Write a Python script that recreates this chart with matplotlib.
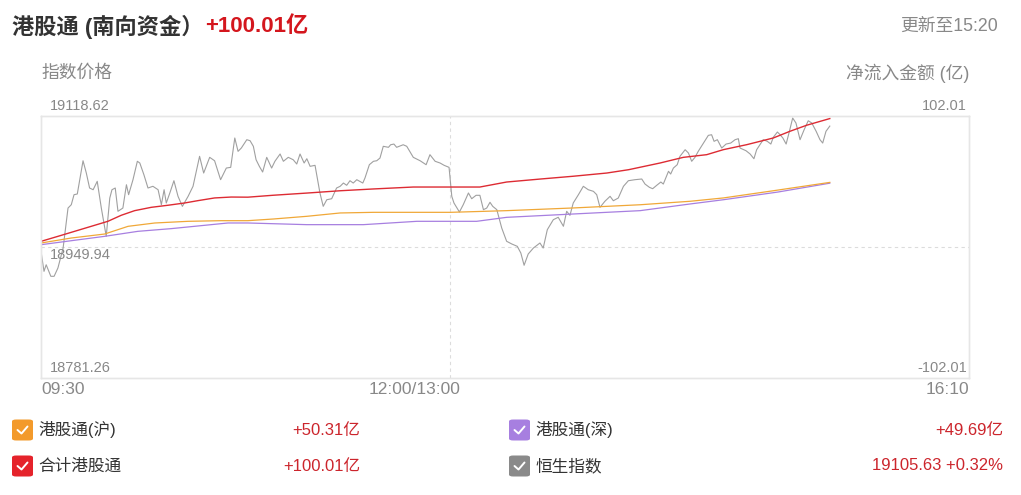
import matplotlib
matplotlib.use("Agg")
import matplotlib.pyplot as plt
import matplotlib.transforms as mtransforms
from matplotlib.patches import FancyBboxPatch
from matplotlib.lines import Line2D

plt.rcParams["font.family"] = ["Liberation Sans", "Noto Sans CJK SC"]

# ---- data (trading minutes since 09:30, lunch break removed) ----
hsi_min = [
    0, 1.1, 1.9, 3.6, 4.8, 6.2, 8.1, 9.9, 11.1, 12.1, 13.3, 14.2, 15.4, 16.6, 17.8,
    19.1, 20.6, 22.1, 23.9, 25.2, 26.0, 27.2, 28.2, 30.0, 31.3, 32.1, 33.7, 35.3,
    36.2, 37.7, 39.2, 41.0, 42.9, 44.1, 45.1, 45.9, 47.2, 48.7, 50.2, 51.8, 53.9,
    55.7, 58.1, 59.6, 61.8, 63.6, 65.8, 67.9, 69.5, 71.0, 72.2, 73.4, 75.4, 76.6,
    77.8, 78.8, 80.0, 81.2, 82.7, 84.5, 85.7, 87.6, 88.8, 90.6, 92.4, 93.7, 94.9,
    96.4, 97.4, 98.6, 100.4, 102.2, 103.4, 104.7, 106.5, 108.3, 109.6, 110.8,
    112.0, 113.2, 114.4, 115.7, 117.9, 118.7, 120.3, 121.8, 123.0, 124.2, 125.4,
    127.3, 128.1, 129.3, 130.3, 132.7, 134.0, 136.4, 138.9, 141.1, 142.5, 144.4,
    146.2, 147.7, 149.5, 150.5, 151.3, 153.3, 154.7, 156.6, 157.8, 159.4, 160.8,
    162.1, 163.3, 164.5, 165.5, 167.0, 168.8, 170.6, 172.5, 174.5, 175.8, 177.0,
    178.5, 180.4, 182.8, 184.0, 185.5, 187.7, 189.5, 191.4, 192.6, 193.8, 195.0,
    196.9, 198.7, 200.5, 202.4, 203.6, 204.8, 206.6, 208.5, 209.7, 211.5, 213.4,
    215.2, 217.6, 220.1, 221.3, 222.9, 224.1, 225.6, 227.1, 228.0, 229.9, 230.7,
    231.7, 233.1, 234.1, 236.0, 237.2, 238.4, 239.6, 240.8, 242.7, 244.5, 245.7,
    246.6, 247.8, 249.4, 251.0, 252.7, 254.3, 255.5, 256.1, 258.3, 259.8, 261.2,
    262.2, 263.4, 264.6, 266.1, 267.4, 268.3, 269.8, 270.8, 271.8, 273.0, 274.2,
    275.4, 276.6, 278.1, 279.6, 281.1, 282.4, 284.0, 285.4, 286.4, 287.6, 289.0,
]
hsi_val = [
    18944.4, 18918.6, 18927.1, 18912.2, 18912.2, 18922.9, 18948.6, 19000.1, 19004.4,
    19017.3, 19018.2, 19036.6, 19061.0, 19045.2, 19025.9, 19023.7, 19034.5, 19000.1,
    18963.7, 19013.0, 19023.7, 19025.9, 18995.9, 19000.1, 19030.1, 19017.3, 19036.6,
    19060.3, 19058.1, 19043.0, 19025.9, 19028.1, 19023.7, 19004.4, 19023.7, 19006.6,
    19019.5, 19035.3, 19015.2, 19002.3, 19015.2, 19028.1, 19066.7, 19045.2, 19065.4,
    19061.0, 19036.6, 19051.6, 19052.5, 19090.3, 19073.1, 19077.4, 19088.1, 19086.8,
    19079.6, 19062.3, 19053.8, 19046.5, 19065.4, 19051.6, 19060.3, 19069.7, 19060.3,
    19065.4, 19062.3, 19056.8, 19069.7, 19058.1, 19063.6, 19053.8, 19055.1, 19019.5,
    19002.3, 19010.8, 19012.1, 19025.9, 19028.1, 19032.3, 19029.4, 19035.3, 19032.3,
    19036.6, 19032.3, 19038.8, 19055.9, 19060.3, 19061.0, 19064.5, 19079.6, 19078.3,
    19081.6, 19082.5, 19078.3, 19081.6, 19079.6, 19065.4, 19061.0, 19055.9, 19068.8,
    19060.3, 19058.1, 19055.1, 19052.5, 19015.2, 19006.6, 18995.0, 19004.4, 19019.5,
    19012.1, 19016.5, 19016.5, 18998.0, 19000.1, 19007.5, 19002.3, 18998.0, 18974.4,
    18957.3, 18953.8, 18950.8, 18942.2, 18926.4, 18940.9, 18948.6, 18955.1, 18948.6,
    18972.2, 18985.1, 18988.2, 18976.6, 18995.9, 18990.7, 19006.6, 19017.3, 19028.1,
    19023.7, 19021.6, 19017.3, 19001.0, 19008.8, 19015.2, 19009.5, 19013.0, 19028.1,
    19035.3, 19036.6, 19037.5, 19031.0, 19026.8, 19025.0, 19029.4, 19033.6, 19031.0,
    19047.4, 19043.9, 19051.6, 19055.9, 19066.7, 19075.2, 19071.0, 19060.3, 19065.4,
    19073.1, 19083.8, 19093.7, 19094.5, 19086.0, 19088.1, 19077.4, 19082.5, 19083.8,
    19088.1, 19089.4, 19077.4, 19073.9, 19069.7, 19063.6, 19075.2, 19081.6, 19088.1,
    19086.0, 19082.5, 19091.2, 19098.0, 19094.5, 19090.3, 19082.5, 19098.9, 19116.0,
    19109.6, 19088.1, 19101.0, 19112.5, 19109.6, 19098.9, 19088.1, 19083.8, 19098.9,
    19105.63,
]

total_min = [0, 6.2, 12.3, 18.4, 24.5, 29.4, 34.3, 40.4, 46.5, 52.7, 57.5, 63.6, 69.7,
             75.8, 85.1, 97.4, 109.6, 121.8, 136.4, 150, 160.8, 170.6, 182.8, 195.0,
             207.3, 215.3, 226.8, 235.3, 243.9, 250.0, 258.6, 268.3, 274.4, 280.5, 289.0]
total_val = [4.4, 8.3, 12.2, 16.1, 20.0, 24.7, 28.3, 30.9, 32.5, 34.3, 36.1, 38.2, 38.9,
             38.8, 40.3, 42.0, 43.8, 45.2, 46.7, 46.7, 46.7, 50.6, 52.9, 55.1, 57.6,
             60.2, 65.4, 69.8, 71.9, 75.8, 79.7, 84.9, 90.1, 94.8, 100.01]

sh_min = [0, 11.1, 23.3, 31.9, 41.7, 53.9, 66.1, 75.8, 85.1, 97.4, 109.6, 121.8, 150,
          170.6, 195.0, 219.5, 237.8, 250.0, 268.3, 289.0]
sh_val = [3.1, 7.0, 10.1, 16.1, 18.7, 20.0, 20.5, 20.5, 21.8, 23.9, 26.5, 27.0, 27.0,
          28.3, 30.4, 32.9, 35.6, 38.2, 43.8, 50.31]

sz_min = [0, 11.1, 23.3, 35.5, 47.7, 60.0, 68.5, 75.8, 97.4, 118.1, 137.7, 150, 159.6,
          170.6, 195.0, 219.5, 237.8, 250.0, 270.0, 289.0]
sz_val = [1.8, 4.9, 8.3, 12.2, 14.3, 16.9, 18.7, 18.7, 17.4, 17.4, 20.0, 20.0, 20.0,
          23.1, 25.7, 28.3, 33.5, 36.8, 42.8, 49.69]

hsi_ticks = [19118.62, 18949.94, 18781.26]
flow_ticks = [102.01, -102.01]
x_ticks = [0, 150, 340]
x_labels = ["09:30", "12:00/13:00", "16:10"]

legend_names = ["港股通(沪)", "港股通(深)", "合计港股通", "恒生指数"]
legend_values = ["+50.31亿", "+49.69亿", "+100.01亿", "19105.63 +0.32%"]

C_SH = "#f39a2b"
C_SZ = "#a77fe0"
C_TOT = "#e5232b"
C_HSI = "#8a8a8a"
C_TXT = "#888888"
C_RED = "#d4161d"
C_VAL = "#cc252c"

W, H = 1021, 495
fig = plt.figure(figsize=(W / 100, H / 100), dpi=100)


def fx(px):
    return px / W


def fy(py):
    return 1 - py / H


ax = fig.add_axes([fx(41), fy(378), 928 / W, 262 / H])
ax2 = ax.twinx()
ax.set_xlim(0, 340)
ax.set_ylim(hsi_ticks[2], hsi_ticks[0])
ax2.set_ylim(flow_ticks[1], flow_ticks[0])

for a in (ax, ax2):
    for sp in a.spines.values():
        sp.set_color("#e6e6e6")
        sp.set_linewidth(1)
    a.tick_params(left=False, right=False, bottom=False,
                  labelleft=False, labelright=False, labelbottom=False)

ax.axhline(hsi_ticks[1], color="#dcdcdc", lw=0.8, ls=(0, (3, 3)))
ax.axvline(150, color="#dcdcdc", lw=0.8, ls=(0, (3, 3)))

ax.plot(hsi_min, hsi_val, color="#a0a0a0", lw=0.8)
ax2.plot(sz_min, sz_val, color=C_SZ, lw=0.9)
ax2.plot(sh_min, sh_val, color="#f0a838", lw=0.9)
ax2.plot(total_min, total_val, color="#dd2b33", lw=1.0)

# axis value labels
bl = mtransforms.blended_transform_factory(ax.transAxes, ax.transData)
bl2 = mtransforms.blended_transform_factory(ax2.transAxes, ax2.transData)
for v, dy, va in zip(hsi_ticks, [3, -1, 3], ["bottom", "top", "bottom"]):
    t = mtransforms.offset_copy(bl, fig=fig, x=9, y=dy, units="dots")
    ax.text(0, v, f"{v:.2f}", transform=t, ha="left", va=va, fontsize=10.5, color=C_TXT)
for v in flow_ticks:
    t = mtransforms.offset_copy(bl2, fig=fig, x=-2, y=3, units="dots")
    ax2.text(1, v, f"{v:.2f}", transform=t, ha="right", va="bottom", fontsize=10.5, color=C_TXT)

bx = mtransforms.blended_transform_factory(ax.transData, ax.transAxes)
for m, lab, ha in zip(x_ticks, x_labels, ["left", "right", "right"]):
    off = 10 if ha == "right" and m == 150 else 0
    t = mtransforms.offset_copy(bx, fig=fig, x=off, y=-4, units="dots")
    ax.text(m, 0, lab, transform=t, ha=ha, va="top", fontsize=12.5, color=C_TXT)

# header
fig.text(fx(12), fy(27), "港股通 (南向资金）", fontsize=16, fontweight="bold",
         color="#333333", ha="left", va="center")
fig.text(fx(205), fy(27), "+100.01亿", fontsize=16, fontweight="bold",
         color=C_RED, ha="left", va="center")
fig.text(fx(998), fy(26), "更新至15:20", fontsize=12.8, color=C_TXT, ha="right", va="center")
fig.text(fx(41), fy(73), "指数价格", fontsize=12.8, color=C_TXT, ha="left", va="center")
fig.text(fx(969), fy(73), "净流入金额 (亿)", fontsize=12.8, color=C_TXT, ha="right", va="center")

# legend with check boxes
box_colors = [C_SH, C_SZ, C_TOT, C_HSI]
box_x = [12, 509, 12, 509]
row_y = [430, 430, 466, 466]
val_right = [360, 1003, 360, 1003]
for name, val, col, x0, yc, xr in zip(legend_names, legend_values, box_colors,
                                      box_x, row_y, val_right):
    s = 21
    fig.patches.append(FancyBboxPatch((fx(x0), fy(yc + s / 2)), s / W, s / H,
                                      boxstyle="round,pad=0,rounding_size=0.004",
                                      transform=fig.transFigure, facecolor=col,
                                      edgecolor="none"))
    fig.lines.append(Line2D([fx(x0 + 5.5), fx(x0 + 9.5), fx(x0 + 15.5)],
                            [fy(yc), fy(yc + 3.5), fy(yc - 3.5)],
                            transform=fig.transFigure, color="white", lw=1.4,
                            solid_capstyle="round", solid_joinstyle="round"))
    fig.text(fx(x0 + 26), fy(yc), name, fontsize=12, color="#333333",
             ha="left", va="center")
    fig.text(fx(xr), fy(yc), val, fontsize=12, color=C_VAL, ha="right", va="center")

fig.savefig("out.png", dpi=100)
